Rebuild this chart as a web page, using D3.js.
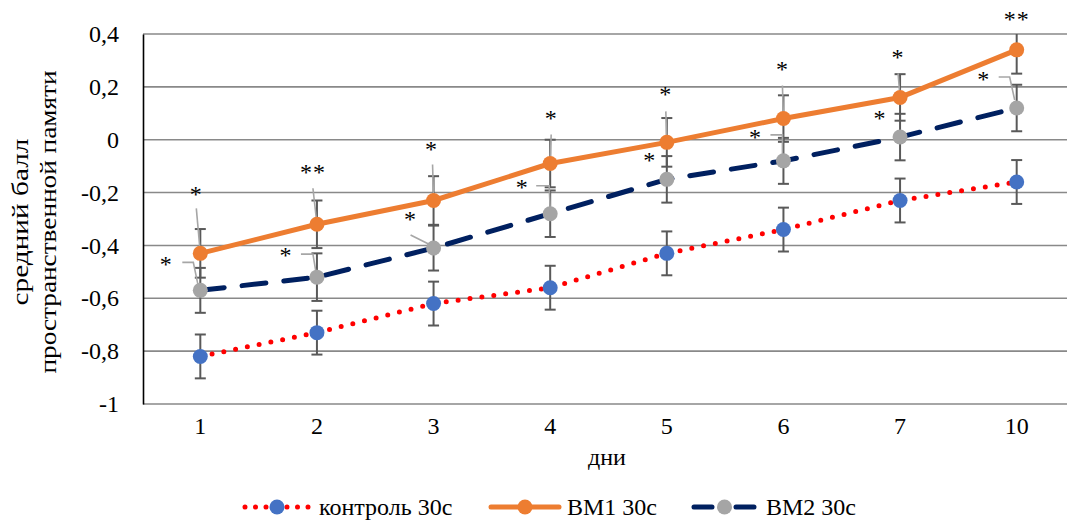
<!DOCTYPE html>
<html>
<head>
<meta charset="utf-8">
<script src="https://cdn.jsdelivr.net/npm/d3@7/dist/d3.min.js"></script>
<style>
  html, body { margin: 0; padding: 0; background: #fff; }
  svg { display: block; }
</style>
</head>
<body>
<svg id="chart" width="1067" height="521"></svg>
<script>
// ---- data ----
const days = ["1", "2", "3", "4", "5", "6", "7", "10"];
const yTicks = [-1, -0.8, -0.6, -0.4, -0.2, 0, 0.2, 0.4];

const controlVals = [-0.82, -0.73, -0.62, -0.56, -0.43, -0.34, -0.23, -0.16];
const controlErr  = [0.083, 0.083, 0.083, 0.083, 0.083, 0.083, 0.083, 0.083];

const bm1Vals = [-0.43, -0.32, -0.23, -0.09, -0.01, 0.08, 0.16, 0.34];
const bm1Err  = [0.092, 0.09, 0.092, 0.09, 0.092, 0.088, 0.088, 0.09];

const bm2Vals = [-0.57, -0.52, -0.41, -0.28, -0.15, -0.08, 0.01, 0.12];
const bm2Err  = [0.085, 0.09, 0.085, 0.088, 0.088, 0.087, 0.088, 0.088];

const bm1Marks = ["*", "**", "*", "*", "*", "*", "*", "**"];
const bm2Marks = ["*", "*", "*", "*", "*", "*", "*", "*"];

const seriesNames = ["контроль 30с", "ВМ1 30с", "ВМ2 30с"];
const yTitleLines = ["средний балл", "пространственной памяти"];
const xTitle = "дни";

// ---- annotation layout (label offsets from the data point, leader paths) ----
const bm1LabelLayout = [
  {dx: -4, dy: -63, leader: [[-4, -45], [0, 0]]},
  {dx: -4, dy: -56, leader: [[-4, -36], [0, 0]]},
  {dx: -2, dy: -56, leader: [[-1, -36], [0, 0]]},
  {dx: 1, dy: -50, leader: [[1, -29], [0, 0]]},
  {dx: -1, dy: -52, leader: [[-1, -31], [0, 0]]},
  {dx: -1, dy: -54, leader: [[-1, -33], [0, 0]]},
  {dx: -2, dy: -44, leader: [[-2, -24], [0, 0]]},
  {dx: 0, dy: -35, leader: null}
];
const bm2LabelLayout = [
  {dx: -34, dy: -30, leader: [[-18, -28], [-7, -28], [-2, -4]]},
  {dx: -31, dy: -26, leader: [[-16, -23], [-4, -23], [-1, -5]]},
  {dx: -23, dy: -33, leader: [[-23, -13], [-3, -3]]},
  {dx: -28, dy: -31, leader: [[-14, -28], [-1, -28], [0, -4]]},
  {dx: -17, dy: -23, leader: null},
  {dx: -28, dy: -28, leader: [[-13, -26], [-1, -26], [-1, -4]]},
  {dx: -20, dy: -23, leader: null},
  {dx: -33, dy: -33, leader: [[-18, -31], [-7, -31], [-2, -8]]}
];

// ---- layout ----
const FONT = "Liberation Serif";
const FS = 24;
const svg = d3.select("#chart");
const plot = {left: 143, top: 34, bottom: 404, right: 1075};

const x = d3.scaleBand().domain(days).range([plot.left - 1, plot.right]).padding(0);
const cx = d => x(d) + x.bandwidth() / 2;
const y = d3.scaleLinear().domain([-1, 0.4]).range([plot.bottom, plot.top]);

svg.append("defs").append("clipPath").attr("id", "plotclip")
  .append("rect").attr("x", 0).attr("y", plot.top).attr("width", 1067).attr("height", plot.bottom - plot.top);

// gridlines
svg.append("g").selectAll("line").data(yTicks).join("line")
  .attr("x1", plot.left).attr("x2", 1067)
  .attr("y1", d => y(d)).attr("y2", d => y(d))
  .attr("stroke", "#898989").attr("stroke-width", 1.6);

// y axis
const yAxis = d3.axisLeft(y).tickValues(yTicks).tickSize(0).tickPadding(24)
  .tickFormat(d => d === 0 ? "0" : (d === -1 ? "-1" : d3.format(".1f")(d).replace(".", ",").replace("−", "-")));
const gy = svg.append("g").attr("transform", `translate(${plot.left},0)`).call(yAxis);
gy.select(".domain").attr("stroke", "#000").attr("stroke-width", 1.6);
gy.selectAll("text").attr("fill", "#000").attr("font-family", FONT).attr("font-size", FS);

// x axis labels
const xAxis = d3.axisBottom(x).tickSize(0).tickPadding(13);
const gx = svg.append("g").attr("transform", `translate(0,${plot.bottom})`).call(xAxis);
gx.select(".domain").remove();
gx.selectAll("text").attr("fill", "#000").attr("font-family", FONT).attr("font-size", FS);

// axis titles
svg.append("text").attr("x", 607).attr("y", 465).attr("text-anchor", "middle")
  .attr("font-family", FONT).attr("font-size", FS).attr("fill", "#000").text(xTitle);
const yt = svg.append("text").attr("transform", "translate(0,222) rotate(-90)").attr("text-anchor", "middle")
  .attr("font-family", FONT).attr("font-size", FS).attr("fill", "#000");
yt.append("tspan").attr("x", 0).attr("y", 28).attr("font-family", FONT)
  .attr("textLength", 167).attr("lengthAdjust", "spacingAndGlyphs").text(yTitleLines[0]);
yt.append("tspan").attr("x", 0).attr("y", 56).attr("font-family", FONT)
  .attr("textLength", 303).attr("lengthAdjust", "spacingAndGlyphs").text(yTitleLines[1]);

// series config
const series = [
  {vals: controlVals, err: controlErr, line: "#ff0000", dash: "0 12", marker: "#4472c4"},
  {vals: bm1Vals, err: bm1Err, line: "#ed7d31", dash: null, marker: "#ed7d31"},
  {vals: bm2Vals, err: bm2Err, line: "#002060", dash: "24 18", marker: "#a5a5a5"}
];

const lineGen = d3.line().x(d => cx(d.day)).y(d => y(d.v));
series.forEach(s => {
  const pts = days.map((d, i) => ({day: d, v: s.vals[i]}));
  svg.append("path").datum(pts).attr("d", lineGen)
    .attr("fill", "none").attr("stroke", s.line).attr("stroke-width", 5)
    .attr("stroke-linecap", "round").attr("stroke-linejoin", "round")
    .attr("stroke-dasharray", s.dash);
});

// error bars
const eg = svg.append("g").attr("clip-path", "url(#plotclip)");
series.forEach(s => {
  days.forEach((d, i) => {
    const xx = cx(d), y1 = y(s.vals[i] + s.err[i]), y2 = y(s.vals[i] - s.err[i]);
    eg.append("line").attr("x1", xx).attr("x2", xx).attr("y1", y1).attr("y2", y2)
      .attr("stroke", "#595959").attr("stroke-width", 2);
    [y1, y2].forEach(yy => eg.append("line").attr("x1", xx - 5.5).attr("x2", xx + 5.5)
      .attr("y1", yy).attr("y2", yy).attr("stroke", "#595959").attr("stroke-width", 2));
  });
});

// leader lines
function drawLeaders(vals, layout) {
  days.forEach((d, i) => {
    const L = layout[i];
    if (!L.leader) return;
    const px = cx(d), py = y(vals[i]);
    svg.append("path")
      .attr("d", d3.line()(L.leader.map(p => [px + p[0], py + p[1]])))
      .attr("fill", "none").attr("stroke", "#a6a6a6").attr("stroke-width", 1.6);
  });
}
drawLeaders(bm1Vals, bm1LabelLayout);
drawLeaders(bm2Vals, bm2LabelLayout);

// markers
series.forEach(s => {
  svg.append("g").selectAll("circle").data(days).join("circle")
    .attr("cx", d => cx(d)).attr("cy", (d, i) => y(s.vals[i])).attr("r", 7.5)
    .attr("fill", s.marker);
});

// significance labels
function drawMarks(vals, marks, layout) {
  svg.append("g").selectAll("text").data(days).join("text")
    .attr("font-family", FONT).attr("font-size", FS).attr("fill", "#000")
    .attr("x", (d, i) => cx(d) + layout[i].dx)
    .attr("y", (d, i) => y(vals[i]) + layout[i].dy + 12)
    .attr("text-anchor", "middle")
    .attr("letter-spacing", "1px")
    .text((d, i) => marks[i]);
}
drawMarks(bm1Vals, bm1Marks, bm1LabelLayout);
drawMarks(bm2Vals, bm2Marks, bm2LabelLayout);

// legend
const legendItems = [
  {name: seriesNames[0], s: series[0], x0: 245, x1: 309, text: 319},
  {name: seriesNames[1], s: series[1], x0: 491, x1: 559, text: 567},
  {name: seriesNames[2], s: series[2], x0: 694, x1: 755, text: 766}
];
const ly = 507;
legendItems.forEach(it => {
  const g = svg.append("g");
  g.append("line").attr("x1", it.x0).attr("x2", it.x1).attr("y1", ly).attr("y2", ly)
    .attr("stroke", it.s.line).attr("stroke-width", 5).attr("stroke-linecap", "round")
    .attr("stroke-dasharray", it.s === series[0] ? "0 10.5" : (it.s === series[2] ? "18 24" : null));
  g.append("circle").attr("cx", (it.x0 + it.x1) / 2).attr("cy", ly).attr("r", 7.5).attr("fill", it.s.marker);
  g.append("text").attr("x", it.text).attr("y", ly + 8)
    .attr("font-family", FONT).attr("font-size", FS).attr("fill", "#000").text(it.name);
});
</script>
</body>
</html>
